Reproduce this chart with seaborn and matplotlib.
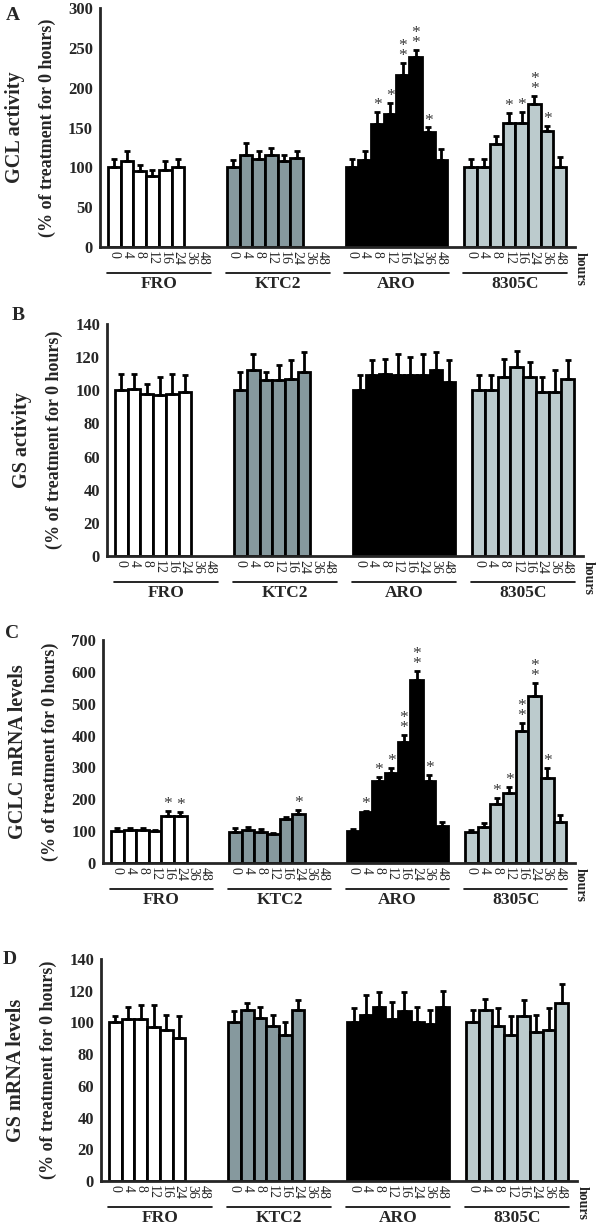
import numpy as np
import pandas as pd
import matplotlib
matplotlib.use("Agg")
import matplotlib.pyplot as plt
import seaborn as sns

# data (percent of 0 h treatment)
hours = ["0", "4", "8", "12", "16", "24", "36", "48"]
cell_lines = ["FRO", "KTC2", "ARO", "8305C"]
bar_colors = ["#ffffff", "#86999e", "#000000", "#bccbcd"]

# A: GCL activity
gcl_mean = [[100, 108, 95, 89, 97, 100],
            [100, 115, 111, 115, 108, 112],
            [100, 109, 155, 167, 216, 238, 144, 109],
            [101, 100, 129, 156, 156, 180, 146, 101]]
gcl_err = [[10, 13, 8, 8, 11, 11],
           [9, 15, 9, 9, 8, 8],
           [10, 12, 14, 14, 15, 9, 6, 14],
           [9, 11, 10, 12, 13, 10, 6, 12]]
gcl_star = [[0] * 6, [0] * 6,
            [0, 0, 1, 1, 2, 2, 1, 0],
            [0, 0, 0, 1, 1, 2, 1, 0]]

# B: GS activity
gs_mean = [[100, 101, 98, 97, 98, 99],
           [100, 112, 106, 106, 107, 111],
           [100, 109, 110, 109, 109, 109, 112, 105],
           [100, 100, 108, 114, 108, 99, 99, 107]]
gs_err = [[10, 9, 6, 11, 12, 10],
          [11, 10, 5, 9, 11, 12],
          [9, 9, 9, 13, 11, 13, 11, 13],
          [9, 9, 11, 10, 9, 9, 13, 11]]
gs_star = [[0] * 6, [0] * 6, [0] * 8, [0] * 8]

# C: GCLC mRNA levels
gclc_mean = [[100, 105, 104, 101, 146, 148],
             [98, 105, 96, 90, 137, 154],
             [100, 161, 257, 284, 381, 574, 257, 116],
             [98, 114, 185, 221, 415, 524, 268, 130]]
gclc_err = [[9, 6, 6, 4, 18, 11],
            [11, 8, 12, 3, 6, 12],
            [6, 3, 14, 15, 20, 28, 18, 14],
            [7, 11, 20, 17, 24, 42, 29, 20]]
gclc_star = [[0, 0, 0, 0, 1, 1],
             [0, 0, 0, 0, 0, 1],
             [0, 1, 1, 1, 2, 2, 1, 0],
             [0, 0, 1, 1, 2, 2, 1, 0]]

# D: GS mRNA levels
gsm_mean = [[100, 102, 102, 97, 95, 90],
            [100, 108, 103, 98, 92, 108],
            [100, 105, 110, 102, 107, 100, 99, 110],
            [100, 108, 98, 92, 104, 94, 95, 112]]
gsm_err = [[4, 8, 9, 14, 10, 14],
           [7, 4, 7, 7, 8, 6],
           [9, 12, 9, 11, 12, 10, 9, 10],
           [8, 7, 11, 12, 10, 11, 14, 12]]
gsm_star = [[0] * 6, [0] * 6, [0] * 8, [0] * 8]

sns.set_style("white")
plt.rcParams["font.family"] = ["Liberation Serif", "DejaVu Serif"]

W, H = 600, 1228
GSP = 9.35  # group spacing in bar slots
palette = dict(zip(cell_lines, bar_colors))

fig = plt.figure(figsize=(W / 100, H / 100), dpi=100)


def panel(rect_px, means, errs, stars, ymax, ystep, letter, label1, lab_px):
    left, top, right, bottom = rect_px
    w_px, h_px = right - left, bottom - top
    ax = fig.add_axes([left / W, 1 - bottom / H, w_px / W, h_px / H])

    xs, ys, es, ss, grp = [], [], [], [], []
    for g, vals in enumerate(means):
        for i, v in enumerate(vals):
            xs.append(g * GSP + i)
            ys.append(v)
            es.append(errs[g][i])
            ss.append(stars[g][i])
            grp.append(cell_lines[g])
    df = pd.DataFrame({"x": xs, "y": ys, "line": grp})

    sns.barplot(data=df, x="x", y="y", hue="line", palette=palette,
                native_scale=True, dodge=False, width=1, saturation=1,
                edgecolor="black", linewidth=2, errorbar=None,
                legend=False, ax=ax)
    ax.errorbar(xs, ys, yerr=[np.zeros(len(es)), es], fmt="none",
                ecolor="black", elinewidth=2, capsize=2.3, capthick=2,
                zorder=3)
    for x, y, e, s in zip(xs, ys, es, ss):
        if s:
            ax.annotate("\n".join(["*"] * s), xy=(x, y + e), xytext=(0, -1),
                        textcoords="offset pixels", ha="center", va="bottom",
                        fontsize=12.5, color="#3a3a3a", linespacing=0.5)

    ax.set_xlim(-1.13, 3 * GSP + 8.2)
    ax.set_ylim(0, ymax)
    ax.set_yticks(np.arange(0, ymax + 1, ystep))
    ax.set_yticklabels([str(v) for v in np.arange(0, ymax + 1, ystep)],
                       fontsize=12, fontweight="bold")
    ticks = [g * GSP + i for g in range(4) for i in range(8)]
    ax.set_xticks(ticks)
    ax.set_xticklabels(hours * 4, rotation=270, fontsize=10,
                       va="top", ha="center")
    bounds = [g * GSP - 1.175 for g in range(1, 4)] + [3 * GSP + 8.2]
    ax.set_xticks(bounds, minor=True)
    ax.tick_params(axis="x", which="major", length=0, pad=3)
    ax.tick_params(axis="x", which="minor", direction="in", length=3, width=1.5)
    ax.tick_params(axis="y", direction="out", length=3, width=1.5, pad=2)
    ax.set_xlabel("")
    ax.set_ylabel("")
    sns.despine(ax=ax)
    for sp in ["left", "bottom"]:
        ax.spines[sp].set_linewidth(2)

    tr = ax.get_xaxis_transform()
    for g, name in enumerate(cell_lines):
        ax.plot([g * GSP - 0.6, g * GSP + 7.6], [-26 / h_px] * 2,
                transform=tr, clip_on=False, color="black", lw=1.2)
        ax.text(g * GSP + 3.5, -37 / h_px, name, transform=tr, ha="center",
                va="center", fontsize=12.5, fontweight="bold")
    ax.text(1 + 5 / w_px, -22 / h_px, "hours", transform=ax.transAxes,
            rotation=270, ha="center", va="center", fontsize=10,
            fontweight="bold")

    lx, ly = lab_px
    fig.text(lx / W, 1 - ly / H, letter, fontsize=14, fontweight="bold",
             ha="center", va="center")
    cy = 1 - (top + bottom) / 2 / H
    fig.text((left - 85) / W, cy, label1, rotation=90, fontsize=14.5,
             fontweight="bold", ha="center", va="center")
    fig.text((left - 53) / W, cy, "(% of treatment for 0 hours)", rotation=90,
             fontsize=13, fontweight="bold", ha="center", va="center")
    return ax


panel((100, 8, 575, 247), gcl_mean, gcl_err, gcl_star, 300, 50,
      "A", "GCL activity", (13, 15))
panel((107, 324, 583, 556), gs_mean, gs_err, gs_star, 140, 20,
      "B", "GS activity", (18, 316))
panel((103, 640, 575, 863), gclc_mean, gclc_err, gclc_star, 700, 100,
      "C", "GCLC mRNA levels", (12, 633))
panel((101, 959, 577, 1181), gsm_mean, gsm_err, gsm_star, 140, 20,
      "D", "GS mRNA levels", (10, 959))

fig.savefig("out.png", dpi=100)
